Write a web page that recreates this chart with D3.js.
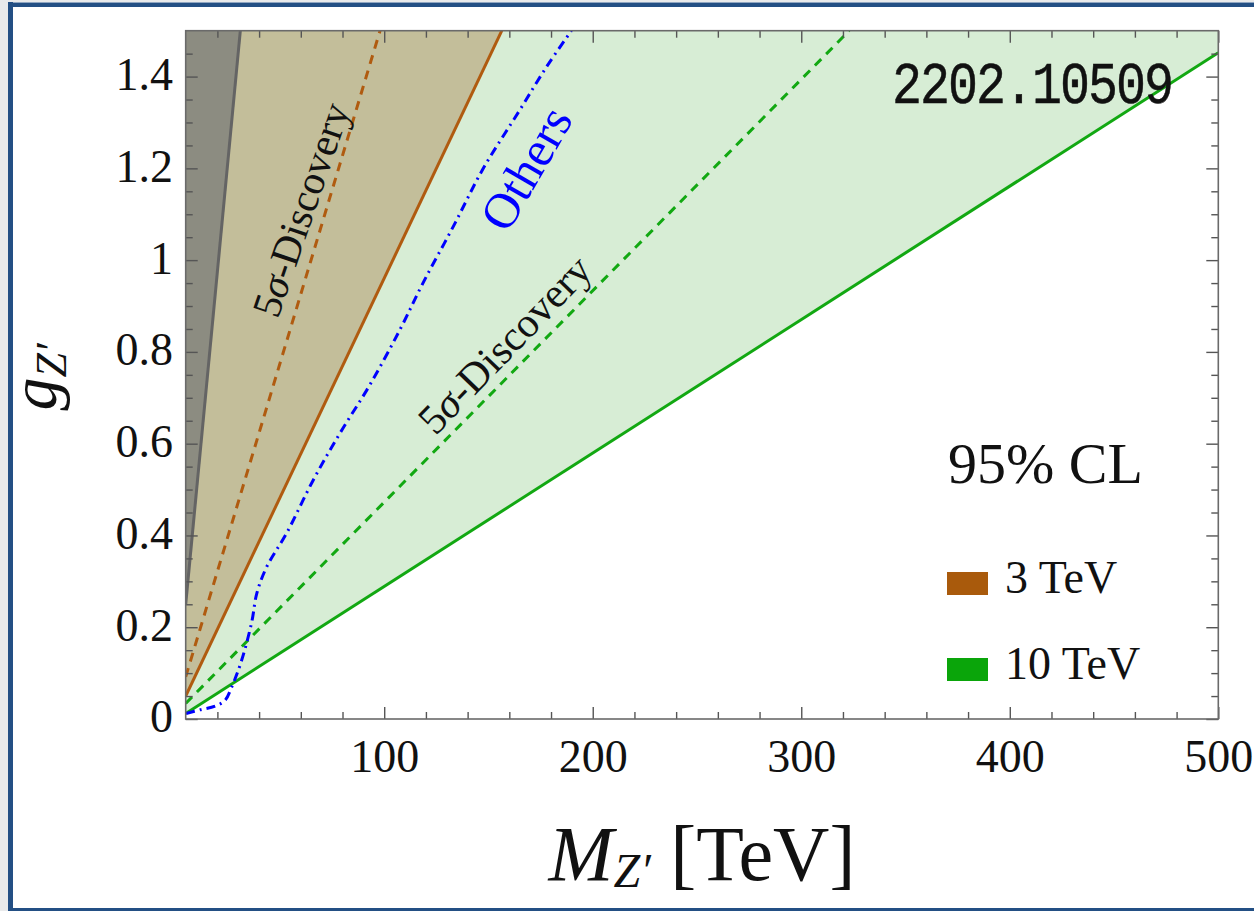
<!DOCTYPE html>
<html>
<head>
<meta charset="utf-8">
<script src="https://cdnjs.cloudflare.com/ajax/libs/d3/7.8.5/d3.min.js"></script>
<style>
  body { margin: 0; background: #e9eaeb; overflow: hidden; }
  text { font-family: "Liberation Serif", "DejaVu Serif", serif; }
</style>
</head>
<body>
<div id="chart"></div>
<script>
// axis values
const massDomain = [4.8, 500];
const couplingDomain = [0, 1.5];
const massTicks = [100, 200, 300, 400, 500];
const couplingTicks = [0, 0.2, 0.4, 0.6, 0.8, 1.0, 1.2, 1.4];
const couplingTickLabels = ["0", "0.2", "0.4", "0.6", "0.8", "1", "1.2", "1.4"];

// exclusion / discovery boundaries, [M (TeV), g]
const grayBound = [[4.8, 0.25], [31, 1.5]];
const brownSolid = [[4.8, 0.050], [156.4, 1.5]];
const brownDashed = [[4.8, 0.092], [98, 1.5]];
const greenSolid = [[4.8, 0.012], [500, 1.452]];
const greenDashed = [[4.8, 0.034], [323, 1.5]];
const othersCurve = [
    [5, 0.012], [11.7, 0.020], [18.9, 0.028], [23.7, 0.041], [26.9, 0.070],
    [31.7, 0.129], [36.5, 0.212], [38.9, 0.274], [43.7, 0.332], [53.2, 0.405],
    [66.0, 0.521], [78.8, 0.623], [93.1, 0.728], [107.5, 0.848], [118.7, 0.951],
    [133.1, 1.073], [147.4, 1.199], [165.0, 1.327], [177.8, 1.421], [189.8, 1.500]
];

const legendLabels = ["3 TeV", "10 TeV"];
const legendColors = ["#a95a0c", "#0aa50a"];

document.addEventListener("DOMContentLoaded", function() {
    const W = 1254, H = 911;
    const margin = { top: 30.7, right: 35.7, bottom: 192, left: 185.7 },
        width = W - margin.left - margin.right,
        height = H - margin.top - margin.bottom;

    const root = d3.select("#chart")
        .append("svg")
        .attr("width", W)
        .attr("height", H);

    // page frame
    root.append("rect").attr("x", 8).attr("y", 2).attr("width", W - 8).attr("height", H - 2)
        .attr("fill", "#fff");
    root.append("rect").attr("x", 8).attr("y", 2).attr("width", 5).attr("height", H - 2)
        .attr("fill", "#234f84");
    root.append("rect").attr("x", 8).attr("y", 2.5).attr("width", W - 8).attr("height", 4.5)
        .attr("fill", "#234f84");
    root.append("rect").attr("x", 8).attr("y", 908).attr("width", W - 8).attr("height", 3)
        .attr("fill", "#234f84");

    const svg = root.append("g")
        .attr("transform", `translate(${margin.left}, ${margin.top})`);

    const x = d3.scaleLinear().domain(massDomain).range([0, width]);
    const y = d3.scaleLinear().domain(couplingDomain).range([height, 0]);

    svg.append("clipPath").attr("id", "plotclip")
        .append("rect").attr("width", width).attr("height", height);

    const plot = svg.append("g").attr("clip-path", "url(#plotclip)");

    const areaAbove = d3.area()
        .x(d => x(d[0]))
        .y0(d => y(d[1]))
        .y1(y(couplingDomain[1]));
    const line = d3.line().x(d => x(d[0])).y(d => y(d[1]));

    // filled regions
    plot.append("path").datum(greenSolid).attr("d", areaAbove).attr("fill", "#d7edd5");
    plot.append("path").datum(brownSolid).attr("d", areaAbove).attr("fill", "#c3be9a");
    plot.append("path").datum(grayBound).attr("d", areaAbove).attr("fill", "#8c8c81");

    // boundary lines
    plot.append("path").datum(grayBound).attr("d", line)
        .attr("fill", "none").attr("stroke", "#646464").attr("stroke-width", 3);
    plot.append("path").datum(brownSolid).attr("d", line)
        .attr("fill", "none").attr("stroke", "#b05b10").attr("stroke-width", 3);
    plot.append("path").datum(brownDashed).attr("d", line)
        .attr("fill", "none").attr("stroke", "#b05b10").attr("stroke-width", 3)
        .attr("stroke-dasharray", "9,7");
    plot.append("path").datum(greenSolid).attr("d", line)
        .attr("fill", "none").attr("stroke", "#12a812").attr("stroke-width", 3);
    plot.append("path").datum(greenDashed).attr("d", line)
        .attr("fill", "none").attr("stroke", "#12a812").attr("stroke-width", 3)
        .attr("stroke-dasharray", "9,7");
    plot.append("path").datum(othersCurve)
        .attr("d", d3.line().x(d => x(d[0])).y(d => y(d[1])).curve(d3.curveCatmullRom))
        .attr("fill", "none").attr("stroke", "#0000ff").attr("stroke-width", 3)
        .attr("stroke-dasharray", "9,5,2,5");

    // curve labels
    function rotatedLabel(m, g, angle, size, color, parts) {
        const t = svg.append("text")
            .attr("transform", `translate(${x(m)}, ${y(g)}) rotate(${angle})`)
            .attr("text-anchor", "middle")
            .attr("dominant-baseline", "central")
            .attr("font-size", size)
            .attr("fill", color);
        parts.forEach(p => t.append("tspan").attr("font-style", p.italic ? "italic" : null).text(p.s));
    }
    const sigmaParts = [{ s: "5" }, { s: "σ", italic: true }, { s: "-Discovery" }];
    rotatedLabel(60.0, 1.11, -71, 41, "#111", sigmaParts);
    rotatedLabel(157.8, 0.816, -46, 42, "#111", sigmaParts);
    rotatedLabel(168.0, 1.20, -60, 50, "#0000ff", [{ s: "Others" }]);

    // axes: major + minor, inward ticks on all four sides
    const minorMass = d3.range(20, 500, 20).filter(v => v % 100 !== 0);
    const minorCoupling = d3.range(0.05, 1.5, 0.05).filter(v => Math.abs(v * 5 - Math.round(v * 5)) > 1e-6);

    function styleAxis(g) {
        g.select(".domain").remove();
        g.selectAll(".tick line").attr("stroke", "#555").attr("stroke-width", 1.4);
    }

    svg.append("g").attr("transform", `translate(0, ${height})`)
        .call(d3.axisBottom(x).tickValues(minorMass).tickSize(-7).tickFormat(""))
        .call(styleAxis);
    svg.append("g").attr("transform", `translate(0, ${height})`)
        .call(d3.axisBottom(x).tickValues(massTicks).tickSize(-12).tickFormat(d3.format("d")))
        .call(styleAxis)
        .call(g => g.selectAll("text")
            .attr("y", 53).attr("dy", null)
            .attr("font-size", 46).attr("fill", "#111")
            .style("font-family", "'Liberation Serif', serif"));

    svg.append("g")
        .call(d3.axisTop(x).tickValues(minorMass).tickSize(-7).tickFormat(""))
        .call(styleAxis);
    svg.append("g")
        .call(d3.axisTop(x).tickValues(massTicks).tickSize(-12).tickFormat(""))
        .call(styleAxis);

    svg.append("g")
        .call(d3.axisLeft(y).tickValues(minorCoupling).tickSize(-7).tickFormat(""))
        .call(styleAxis);
    svg.append("g")
        .call(d3.axisLeft(y).tickValues(couplingTicks).tickSize(-12)
            .tickFormat((d, i) => couplingTickLabels[i]))
        .call(styleAxis)
        .call(g => g.selectAll("text")
            .attr("x", -12.7).attr("dy", "0.28em")
            .attr("font-size", 46).attr("fill", "#111")
            .style("font-family", "'Liberation Serif', serif"));

    svg.append("g").attr("transform", `translate(${width}, 0)`)
        .call(d3.axisRight(y).tickValues(minorCoupling).tickSize(-7).tickFormat(""))
        .call(styleAxis);
    svg.append("g").attr("transform", `translate(${width}, 0)`)
        .call(d3.axisRight(y).tickValues(couplingTicks).tickSize(-12).tickFormat(""))
        .call(styleAxis);

    svg.append("rect")
        .attr("width", width).attr("height", height)
        .attr("fill", "none").attr("stroke", "#6a6a6a").attr("stroke-width", 1.6);

    // axis titles
    const xt = root.append("text")
        .attr("x", margin.left + width / 2).attr("y", 880)
        .attr("text-anchor", "middle").attr("font-size", 78).attr("fill", "#111");
    xt.append("tspan").attr("font-style", "italic").text("M");
    xt.append("tspan").attr("font-style", "italic").attr("font-size", 48).attr("dy", 7).text("Z′");
    xt.append("tspan").attr("dy", -7).text(" [TeV]");

    const yt = root.append("text")
        .attr("transform", "translate(56, 377) rotate(-90)")
        .attr("text-anchor", "middle").attr("font-size", 66).attr("fill", "#111");
    yt.append("tspan").attr("font-style", "italic").text("g");
    yt.append("tspan").attr("font-style", "italic").attr("font-size", 44).attr("dy", 10).text("Z′");

    // arXiv tag
    root.append("g").attr("transform", "translate(892, 103) scale(1, 1.2)")
        .append("text")
        .attr("font-size", 50).attr("letter-spacing", -2)
        .attr("fill", "#111").attr("stroke", "#111").attr("stroke-width", 0.4)
        .style("font-family", "'Liberation Mono', monospace")
        .text("2202.10509");

    root.append("text")
        .attr("x", 948).attr("y", 483)
        .attr("font-size", 58).attr("fill", "#111")
        .text("95% CL");

    // legend
    const leg = root.append("g");
    legendLabels.forEach((lab, i) => {
        const ly = 572 + i * 86;
        leg.append("rect").attr("x", 947).attr("y", ly).attr("width", 41).attr("height", 23)
            .attr("fill", legendColors[i]);
        leg.append("text").attr("x", 1005).attr("y", ly + 21)
            .attr("font-size", 46).attr("fill", "#111").text(lab);
    });
});
</script>
</body>
</html>
